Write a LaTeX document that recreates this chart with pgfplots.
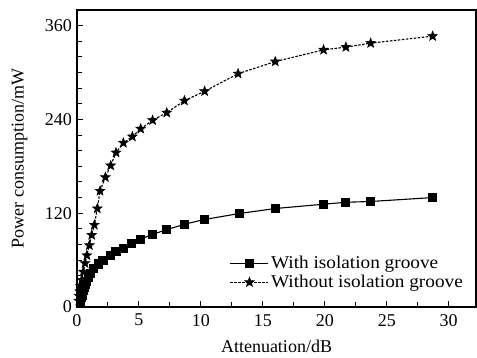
\documentclass[border=0pt]{standalone}
\usepackage{fontspec}
\setmainfont{Liberation Serif}
\newfontfamily\legfont[FakeStretch=1.07]{Liberation Serif}
\usepackage{pgfplots}
\pgfplotsset{compat=1.18}
\pgfdeclareplotmark{fstar}{%
  \pgfpathmoveto{\pgfpointpolar{90}{\pgfplotmarksize}}%
  \pgfpathlineto{\pgfpointpolar{126}{0.42\pgfplotmarksize}}%
  \pgfpathlineto{\pgfpointpolar{162}{\pgfplotmarksize}}%
  \pgfpathlineto{\pgfpointpolar{198}{0.42\pgfplotmarksize}}%
  \pgfpathlineto{\pgfpointpolar{234}{\pgfplotmarksize}}%
  \pgfpathlineto{\pgfpointpolar{270}{0.42\pgfplotmarksize}}%
  \pgfpathlineto{\pgfpointpolar{306}{\pgfplotmarksize}}%
  \pgfpathlineto{\pgfpointpolar{342}{0.42\pgfplotmarksize}}%
  \pgfpathlineto{\pgfpointpolar{18}{\pgfplotmarksize}}%
  \pgfpathlineto{\pgfpointpolar{54}{0.42\pgfplotmarksize}}%
  \pgfpathclose
  \pgfusepathqfillstroke
}
\begin{document}
\fontsize{18}{21}\selectfont
\begin{tikzpicture}
\path[use as bounding box] (-77pt,-51pt) rectangle (400pt,307pt);
\begin{axis}[
  at={(0pt,0pt)}, anchor=south west,
  scale only axis,
  width=399pt, height=297pt,
  xmin=0, xmax=32.2, ymin=0, ymax=380,
  xtick={0,5,...,30}, minor x tick num=1,
  ytick={0,120,240,360}, minor y tick num=5,
  tick pos=left, tick align=inside,
  major tick length=6pt, minor tick length=5pt,
  every tick/.style={black, line width=1pt},
  axis line style={line width=1.3pt},
  /pgf/number format/assume math mode=true,
  ticklabel style={font=\fontsize{18}{21}\selectfont},
  yticklabel style={xshift=1pt},
  xticklabel style={yshift=-1pt},
  label style={font=\fontsize{18}{21}\selectfont},
  xlabel={Attenuation/dB},
  ylabel={Power consumption/mW},
  ylabel style={at={(axis description cs:-0.144,0.5)}, anchor=center, rotate=0},
  xlabel style={yshift=-1pt},
  legend style={at={(0.975,0.047)}, anchor=south east, draw=none, fill=none,
    font=\fontsize{18}{21}\selectfont\legfont, row sep=-0.6pt, inner sep=1pt,
    /tikz/every even column/.append style={column sep=1pt}},
  legend cell align=left,
  legend image code/.code={\draw[mark repeat=2,mark phase=2] plot coordinates {(0pt,0pt) (19pt,0pt) (38pt,0pt)};},
]
\addplot[black, line width=1.1pt, mark=square*, mark size=4pt, mark options={solid}] coordinates {
(0.25,6) (0.3,9) (0.35,12) (0.4,15) (0.45,18) (0.5,21) (0.6,25) (0.7,29) (0.8,33) (0.95,38) (1.1,43) (1.32,49) (1.72,55) (2.1,60) (2.67,66) (3.15,70.6) (3.75,75) (4.4,81) (5.1,86.5) (6.1,93) (7.25,99) (8.7,106) (10.3,112) (13.1,119.6) (16.0,126) (19.9,131.5) (21.7,134) (23.7,135) (28.7,140)
};
\addlegendentry{With isolation groove}
\addplot[black, line width=1.1pt, dash pattern=on 2.5pt off 1.5pt, mark=fstar, mark size=5pt, mark options={solid, line width=0.6pt}] coordinates {
(0.15,8) (0.18,14) (0.22,20) (0.28,27) (0.38,34.5) (0.51,45) (0.65,56) (0.8,66) (1.0,79) (1.19,92) (1.4,105) (1.64,126) (1.86,148.5) (2.29,166) (2.72,181) (3.15,197.5) (3.74,210) (4.47,218) (5.14,228) (6.1,239) (7.24,248.6) (8.67,264) (10.3,276) (13.0,298.5) (16.0,314) (19.9,329) (21.7,332.5) (23.7,337.6) (28.7,346.5)
};
\addlegendentry{Without isolation groove}
\end{axis}
\end{tikzpicture}
\end{document}
